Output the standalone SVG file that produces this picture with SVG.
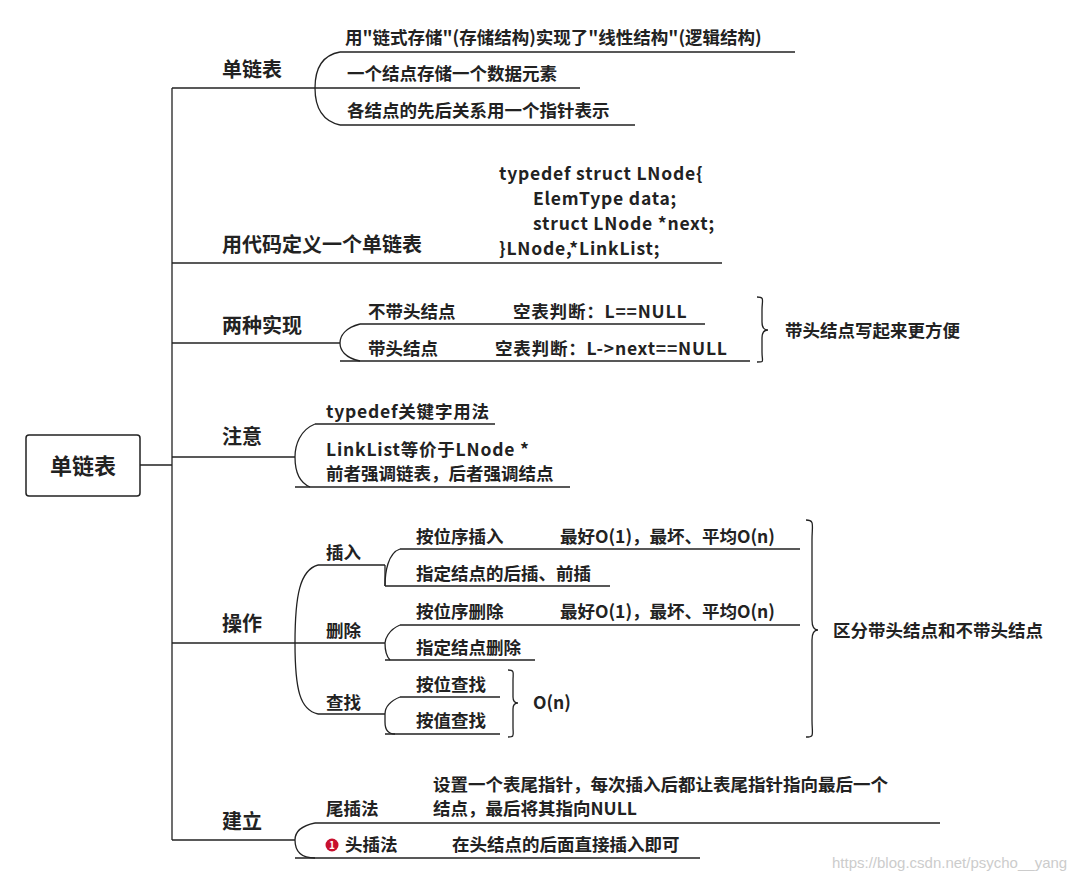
<svg xmlns="http://www.w3.org/2000/svg" width="1083" height="882" viewBox="0 0 1083 882">
<style>
text{font-family:"Noto Sans CJK SC","Liberation Sans",sans-serif;fill:#222;}
.b{font-size:20px;font-weight:bold}
.c{font-size:17.5px;font-weight:bold}
.k{font-size:17.5px;font-weight:bold;letter-spacing:0.8px}
.l{fill:none;stroke:#222;stroke-width:1.3}
</style>
<rect width="1083" height="882" fill="#fff"/>
<g id="connectors" class="l">
<path d="M140 465H172M172 88V840"/>
<path d="M172 88H330"/><path d="M340 52H795M330 88H580M340 125H635"/>
<path d="M340 52C318 56 315 75 315 88C315 100 318 120 340 125"/>
<path d="M172 263H722"/>
<path d="M172 343H340"/><path d="M360 324H705M340 361H750"/>
<path d="M360 324C345 328 340 336 340 343C340 350 345 358 360 361"/>
<path d="M757 297C765 297 762 300 762 310V322Q762 330 768 330Q762 330 762 338V352C762 362 765 362 757 362"/>
<path d="M172 457H295"/><path d="M315 424H495M295 487H570"/>
<path d="M315 424C300 430 295 445 295 457C295 470 298 482 310 487"/>
<path d="M172 643H295"/>
<path d="M318 565H385M295 643H370M318 714H385"/>
<path d="M318 565C300 570 295 595 295 643C295 690 300 710 318 714"/>
<path d="M400 549H800M385 586H610"/><path d="M400 549C388 553 385 572 385 586" /><path d="M385 565V586"/>
<path d="M400 625H800M385 660H535"/><path d="M400 625C388 630 385 640 385 643M370 643H385C385 650 386 656 390 660"/>
<path d="M400 697H500M385 734H500"/><path d="M400 697C388 702 385 708 385 714V722C385 730 388 734 395 734"/>
<path d="M508 670C515 670 513 673 513 680V697Q513 703 518 703Q513 703 513 709V727C513 735 515 737 508 737"/>
<path d="M806 520C815 520 812 525 812 540V620Q812 630 818 630Q812 630 812 640V720C812 735 815 737 806 737"/>
<path d="M172 840H295"/><path d="M315 823H940M295 858H700"/>
<path d="M315 823C300 826 295 833 295 840C295 850 300 858 315 858"/>
</g>
<g id="root"><rect x="26" y="435" width="114" height="61" rx="3" fill="#fff" stroke="#222" stroke-width="1.5"/><text x="83" y="474" text-anchor="middle" style="font-size:22px;font-weight:bold">单链表</text></g>
<g id="n1"><text class="b" x="222" y="77">单链表</text>
<text class="c" x="345" y="44">用"链式存储"(存储结构)实现了"线性结构"(逻辑结构)</text>
<text class="c" x="347" y="80">一个结点存储一个数据元素</text>
<text class="c" x="347" y="117">各结点的先后关系用一个指针表示</text></g>
<g id="n2"><text class="b" x="222" y="252">用代码定义一个单链表</text>
<text class="k" x="499" y="180">typedef struct LNode{</text>
<text class="k" x="533" y="205">ElemType data;</text>
<text class="k" x="533" y="230">struct LNode *next;</text>
<text class="k" x="499" y="255">}LNode,*LinkList;</text></g>
<g id="n3"><text class="b" x="222" y="333">两种实现</text>
<text class="c" x="368" y="318">不带头结点</text><text class="k" x="513" y="318">空表判断：L==NULL</text>
<text class="c" x="368" y="355">带头结点</text><text class="k" x="495" y="355">空表判断：L-&gt;next==NULL</text>
<text class="c" x="785" y="337">带头结点写起来更方便</text></g>
<g id="n4"><text class="b" x="222" y="444">注意</text>
<text class="k" x="326" y="418">typedef关键字用法</text>
<text class="k" x="326" y="456">LinkList等价于LNode *</text>
<text class="c" x="326" y="480">前者强调链表，后者强调结点</text></g>
<g id="n5"><text class="b" x="222" y="631">操作</text>
<text class="c" x="326" y="559">插入</text><text class="c" x="326" y="637">删除</text><text class="c" x="326" y="709">查找</text>
<text class="c" x="416" y="543">按位序插入</text><text class="c" x="560" y="543">最好O(1)，最坏、平均O(n)</text>
<text class="c" x="416" y="580">指定结点的后插、前插</text>
<text class="c" x="416" y="618">按位序删除</text><text class="c" x="560" y="618">最好O(1)，最坏、平均O(n)</text>
<text class="c" x="416" y="654">指定结点删除</text>
<text class="c" x="416" y="691">按位查找</text><text class="c" x="416" y="727">按值查找</text>
<text class="c" x="533" y="709">O(n)</text>
<text class="c" x="833" y="637">区分带头结点和不带头结点</text></g>
<g id="n6"><text class="b" x="222" y="829">建立</text>
<text class="c" x="326" y="815">尾插法</text>
<text class="c" x="433" y="791">设置一个表尾指针，每次插入后都让表尾指针指向最后一个</text>
<text class="c" x="433" y="815">结点，最后将其指向NULL</text>
<circle cx="332" cy="845" r="6.5" fill="#c8102e"/><text x="332" y="849" text-anchor="middle" style="font-size:10px;font-weight:bold;fill:#fff">1</text>
<text class="c" x="345" y="851">头插法</text>
<text class="c" x="452" y="851">在头结点的后面直接插入即可</text></g>
<text x="832" y="868" style="font-size:15px;fill:#ccc;font-family:'Liberation Sans',sans-serif">https://blog.csdn.net/psycho__yang</text>
</svg>
